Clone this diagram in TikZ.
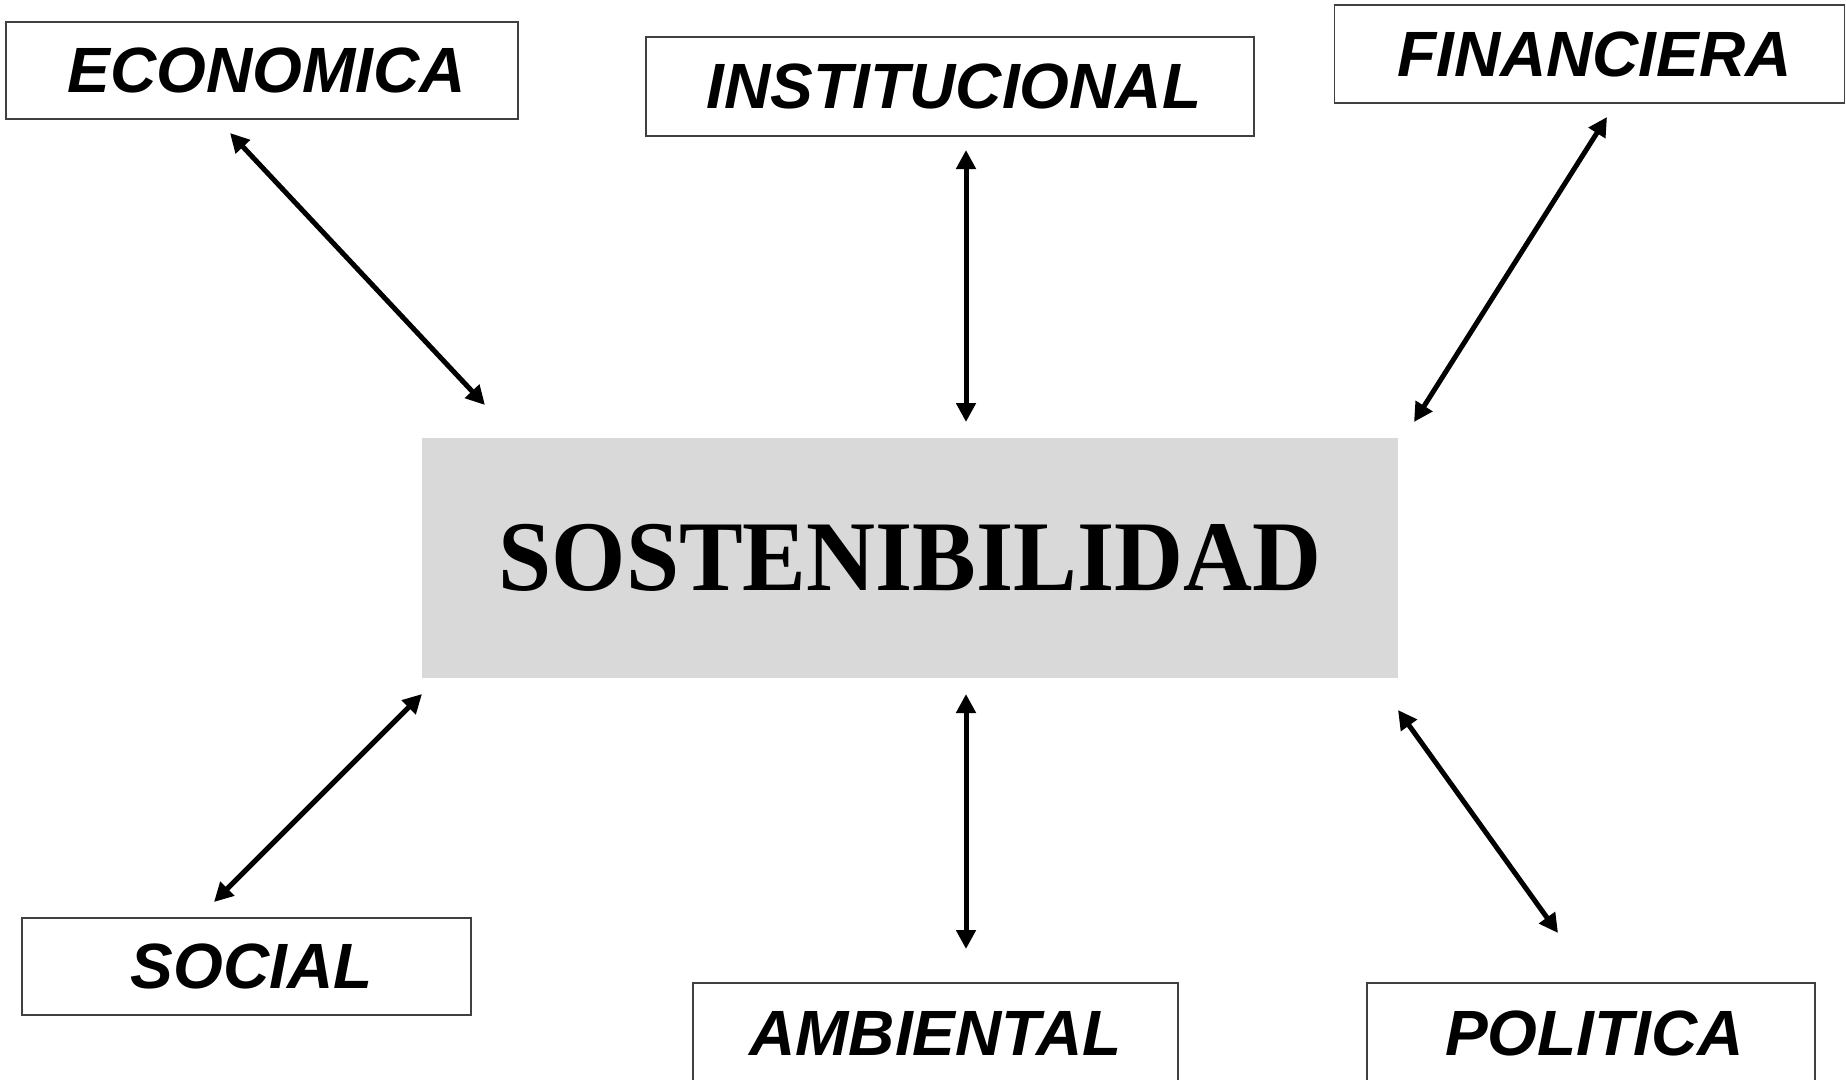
\documentclass[tikz,border=0pt]{standalone}
\usepackage{fontspec}
\usepackage{graphicx}
\setmainfont{Liberation Serif}
\newfontfamily\labelfont{Liberation Sans}
\usetikzlibrary{arrows.meta}
\definecolor{boxgray}{HTML}{D9D9D9}
\begin{document}
\begin{tikzpicture}[x=1pt,y=-1pt,
  dimbox/.style={draw=black!75, line width=1.5pt, fill=white, inner sep=0pt,
    font=\labelfont\bfseries\itshape\fontsize{64}{64}\selectfont},
  corebox/.style={fill=boxgray, inner sep=0pt,
    font=\bfseries\fontsize{100}{100}\selectfont},
  link/.style={line width=5pt,
    {Triangle[length=19pt,width=19pt]}-{Triangle[length=19pt,width=19pt]}}]
\useasboundingbox (0,0) rectangle (1846,1079);

\node[corebox, minimum width=976pt, minimum height=240pt] (sost) at (910,558) {\scalebox{0.955}[1]{SOSTENIBILIDAD}};

\node[dimbox, minimum width=512pt, minimum height=97pt] (econ) at (262,70.5) {\hspace{10pt}ECONOMICA};
\node[dimbox, minimum width=608pt, minimum height=99pt] (inst) at (950,86.5) {\hspace{8pt}INSTITUCIONAL};
\node[dimbox, minimum width=510pt, minimum height=98pt] (fin) at (1589.5,54) {\hspace{10pt}FINANCIERA};
\node[dimbox, minimum width=449pt, minimum height=97pt] (soc) at (246.5,966.5) {\hspace{10pt}SOCIAL};
\node[dimbox, minimum width=485pt, minimum height=100pt] (amb) at (935.5,1033) {AMBIENTAL};
\node[dimbox, minimum width=448pt, minimum height=100pt] (pol) at (1591,1033) {\hspace{7pt}POLITICA};

\coordinate (econA) at (230,133);  \coordinate (econB) at (485,405);
\coordinate (instA) at (966,150);  \coordinate (instB) at (966,422);
\coordinate (finA)  at (1607,117); \coordinate (finB)  at (1414,422);
\coordinate (socA)  at (214,902);  \coordinate (socB)  at (422,694);
\coordinate (ambA)  at (966,949);  \coordinate (ambB)  at (966,694);
\coordinate (polA)  at (1558,933); \coordinate (polB)  at (1398,710);

\draw[link] (econA) -- (econB);
\draw[link] (instA) -- (instB);
\draw[link] (finA) -- (finB);
\draw[link] (socA) -- (socB);
\draw[link] (ambA) -- (ambB);
\draw[link] (polA) -- (polB);
\end{tikzpicture}
\end{document}
